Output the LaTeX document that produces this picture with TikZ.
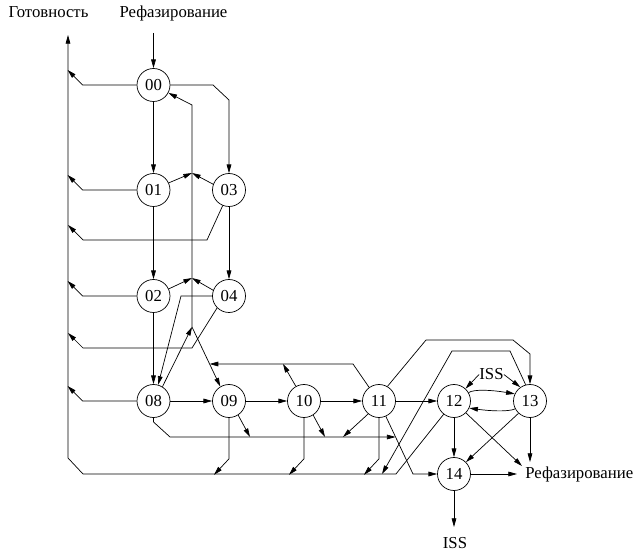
\documentclass[tikz,border=0pt]{standalone}
\usepackage{fontspec}
\setmainfont{Liberation Serif}
\usetikzlibrary{arrows.meta}

\begin{document}
\begin{tikzpicture}[x=0.3mm,y=-0.3mm,line width=0.6pt,
    font=\fontsize{14.3}{17}\selectfont,
    st/.style={circle,draw,minimum size=9.9mm,inner sep=0pt},
    lbl/.style={inner sep=0pt,anchor=base},
    ar/.style={-{Triangle[length=2.6mm,width=1.4mm]}}]
  \useasboundingbox (0,0) rectangle (636,552);
  % states
  \foreach \n/\x/\y in {00/153.5/85, 01/153.5/190, 02/153.5/296, 08/153.5/401,
      03/229/190, 04/229/296, 09/229/401, 10/304/401, 11/379/401,
      12/454/401, 13/530/401, 14/454/474}
    \node[st] (s\n) at (\x,\y) {\n};
  % labels
  \node[lbl] (got) at (48.5,17.5) {Готовность};
  \node[lbl] (ref1) at (173.5,17.5) {Рефазирование};
  \node[lbl,anchor=base west] (ref2) at (525,479) {Рефазирование};
  \node[lbl] (iss1) at (491.5,380) {ISS};
  \node[lbl] (iss2) at (455,549) {ISS};
  % free ends
  \coordinate (r1) at (153.5,33);
  \coordinate (top) at (68,35);
  \coordinate (vb) at (192,327);
  \coordinate (j1) at (192,173);
  \coordinate (j2) at (192,278);
  \coordinate (j3) at (209.6,364);
  \coordinate (j4) at (283,364);
  \coordinate (j5) at (395.6,437);
  \coordinate (b9) at (250,437);
  \coordinate (b10) at (325,437);
  \coordinate (b11) at (343,437);
  \coordinate (j6) at (382,474);
  \coordinate (k14) at (413,474);
  \coordinate (r2a) at (522,466);
  \coordinate (r2b) at (530,462);
  \coordinate (r2c) at (517,474);
  \coordinate (i2) at (454,527);

  % main chain
  \draw[ar] (r1) -- (s00);
  \draw[ar] (s00) -- (s01);
  \draw[ar] (s01) -- (s02);
  \draw[ar] (s02) -- (s08);
  \draw[ar] (s03) -- (s04);
  \draw[ar] (s08) -- (s09);
  \draw[ar] (s09) -- (s10);
  \draw[ar] (s10) -- (s11);
  \draw[ar] (s11) -- (s12);
  \draw[ar] (s00.east) -- (213,85) -- (229,100) -- (s03);

  % to the ready bus
  \foreach \n in {00,01,02,08}
    \draw[ar] (s\n.west) -- ++(-54,0) -- ++(-15,-15);
  \draw[ar] (s03.-112) -- (207,240) -- (83,240) -- ++(-15,-15);
  \draw[ar] (s04.-135) -- (192,348) -- (83,348) -- ++(-15,-15);
  \draw[ar] (s12.-128) -- (396,474) -- (83,474) -- (68,458) -- (top);
  \foreach \n in {09,10,11}
    \draw[ar] (s\n.south) -- ++(0,41) -- ++(-15,16);
  \draw[ar] (s13.105) -- (510,351) -- (452,351) -- (j6);

  % back to 00 and on to 09
  \draw[ar] (vb) -- (192,105) -- (s00.-28);
  \draw[ar] (vb) -- (s09.121);
  \draw[ar] (s08.58) -- (vb);
  \draw[ar] (s01.25) -- (j1);
  \draw[ar] (s03.160) -- (j1);
  \draw[ar] (s02.25) -- (j2);
  \draw[ar] (s04.160) -- (j2);
  \draw[ar] (s04.west) -- (181,296) -- (s08.74);
  \draw[ar] (s11.126) -- (353,364) -- (j3);
  \draw[ar] (s10.119) -- (j4);

  % lower line to 14
  \draw[ar] (s08.south) -- (153.5,422) -- (170,437) -- (j5);
  \draw[ar] (s09.-57) -- (b9);
  \draw[ar] (s10.-57) -- (b10);
  \draw[ar] (s11.-130) -- (b11);
  \draw[ar] (s11.-66) -- (k14) -- (s14);

  % right part
  \draw[ar] (s11.60) -- (426,340) -- (513,340) -- (530,354) -- (s13);
  \draw[ar] (iss1.west) -- (s12.47);
  \draw[ar] (iss1.east) -- (s13.125);
  \draw[ar] (s12.30) .. controls (474,389) and (492,390) .. (s13.155);
  \draw[ar] (s13.-152) .. controls (508,412) and (490,411) .. (s12.-25);
  \draw[ar] (s12) -- (s14);
  \draw[ar] (s12.-45) -- (r2a);
  \draw[ar] (s13) -- (r2b);
  \draw[ar] (s13.-133) -- (s14.45);
  \draw[ar] (s14) -- (r2c);
  \draw[ar] (s14) -- (i2);
\end{tikzpicture}
\end{document}
